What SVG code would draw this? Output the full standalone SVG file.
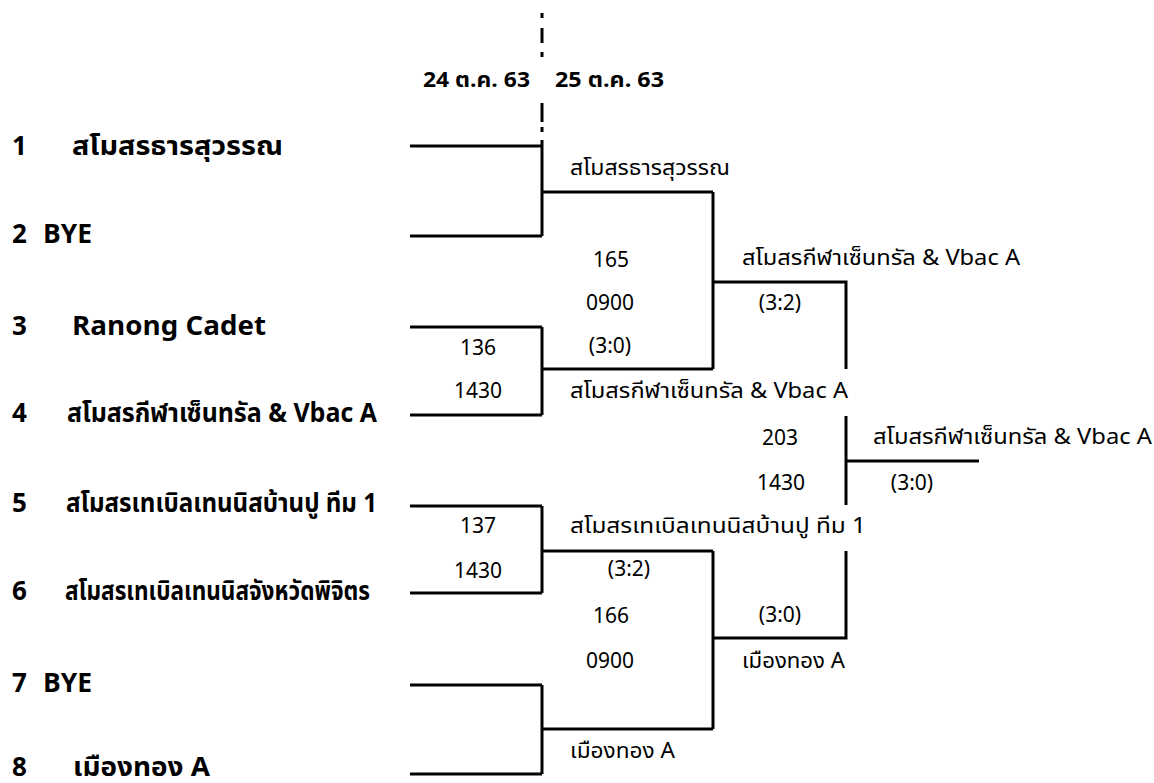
<svg xmlns="http://www.w3.org/2000/svg" width="1154" height="783" viewBox="0 0 1154 783">
<style>
.ln{fill:none;stroke:#000;stroke-width:3}
.dash{fill:none;stroke:#000;stroke-width:3}
text{font-family:"Noto Sans Thai","Noto Sans","Liberation Sans",sans-serif;fill:#000}
.seed{font-size:26px;font-weight:bold}
.lbl{font-size:21px}
.num{font-size:21px;text-anchor:middle}
.date{font-size:21px;font-weight:bold}
</style>
<rect width="1154" height="783" fill="#fff"/>
<g id="dates">
<path class="dash" d="M542 13V18M542 28V43M542 52V57M542 103V122M542 127V132"/>
<text class="date" x="423" y="87" textLength="107" lengthAdjust="spacingAndGlyphs">24 ต.ค. 63</text>
<text class="date" x="555" y="87" textLength="109" lengthAdjust="spacingAndGlyphs">25 ต.ค. 63</text>
</g>
<g id="seeds">
<g id="s1"><text class="seed" x="12" y="155">1</text><text class="seed" x="72" y="155" textLength="211" lengthAdjust="spacingAndGlyphs">สโมสรธารสุวรรณ</text></g>
<g id="s2"><text class="seed" x="12" y="243">2</text><text class="seed" x="43" y="243" textLength="49" lengthAdjust="spacingAndGlyphs">BYE</text></g>
<g id="s3"><text class="seed" x="12" y="335">3</text><text class="seed" x="72" y="335" textLength="194" lengthAdjust="spacingAndGlyphs">Ranong Cadet</text></g>
<g id="s4"><text class="seed" x="12" y="422">4</text><text class="seed" x="67" y="422" textLength="310" lengthAdjust="spacingAndGlyphs">สโมสรกีฬาเซ็นทรัล &amp; Vbac A</text></g>
<g id="s5"><text class="seed" x="12" y="512">5</text><text class="seed" x="66" y="512" textLength="311" lengthAdjust="spacingAndGlyphs">สโมสรเทเบิลเทนนิสบ้านปู ทีม 1</text></g>
<g id="s6"><text class="seed" x="12" y="600">6</text><text class="seed" x="65" y="600" textLength="305" lengthAdjust="spacingAndGlyphs">สโมสรเทเบิลเทนนิสจังหวัดพิจิตร</text></g>
<g id="s7"><text class="seed" x="12" y="692">7</text><text class="seed" x="43" y="692" textLength="49" lengthAdjust="spacingAndGlyphs">BYE</text></g>
<g id="s8"><text class="seed" x="12" y="776">8</text><text class="seed" x="73" y="776" textLength="137" lengthAdjust="spacingAndGlyphs">เมืองทอง A</text></g>
</g>
<g id="connectors">
<path class="ln" d="M410 146H542M410 236H542M542 140V236"/>
<path class="ln" d="M410 327H542M410 415H542M542 327V415"/>
<path class="ln" d="M410 506H542M410 593H542M542 506V593"/>
<path class="ln" d="M410 685H542M410 774H542M542 685V774"/>
<path class="ln" d="M542 192H713M542 369H713M713 192V369"/>
<path class="ln" d="M542 551H713M542 729H713M713 551V729"/>
<path class="ln" d="M713 282H846V369"/>
<path class="ln" d="M713 638H846V551"/>
<path class="ln" d="M846 416V505M846 461H979"/>
</g>
<g id="m1"><text class="lbl" x="570" y="175" textLength="160" lengthAdjust="spacingAndGlyphs">สโมสรธารสุวรรณ</text><text class="num" x="611" y="267">165</text><text class="num" x="610" y="310">0900</text><text class="num" x="610" y="353">(3:0)</text></g>
<g id="m2"><text class="num" x="478" y="355">136</text><text class="num" x="478" y="398">1430</text><text class="lbl" x="570" y="398" textLength="278" lengthAdjust="spacingAndGlyphs">สโมสรกีฬาเซ็นทรัล &amp; Vbac A</text></g>
<g id="m3"><text class="lbl" x="742" y="265" textLength="278" lengthAdjust="spacingAndGlyphs">สโมสรกีฬาเซ็นทรัล &amp; Vbac A</text><text class="num" x="780" y="310">(3:2)</text></g>
<g id="m4"><text class="num" x="780" y="445">203</text><text class="num" x="781" y="490">1430</text><text class="lbl" x="873" y="444" textLength="279" lengthAdjust="spacingAndGlyphs">สโมสรกีฬาเซ็นทรัล &amp; Vbac A</text><text class="num" x="912" y="490">(3:0)</text></g>
<g id="m5"><text class="num" x="478" y="533">137</text><text class="num" x="478" y="578">1430</text><text class="lbl" x="570" y="533" textLength="296" lengthAdjust="spacingAndGlyphs">สโมสรเทเบิลเทนนิสบ้านปู ทีม 1</text></g>
<g id="m6"><text class="num" x="629" y="576">(3:2)</text><text class="num" x="611" y="623">166</text><text class="num" x="610" y="668">0900</text><text class="lbl" x="570" y="758" textLength="105" lengthAdjust="spacingAndGlyphs">เมืองทอง A</text></g>
<g id="m7"><text class="num" x="780" y="622">(3:0)</text><text class="lbl" x="742" y="668" textLength="103" lengthAdjust="spacingAndGlyphs">เมืองทอง A</text></g>
</svg>
